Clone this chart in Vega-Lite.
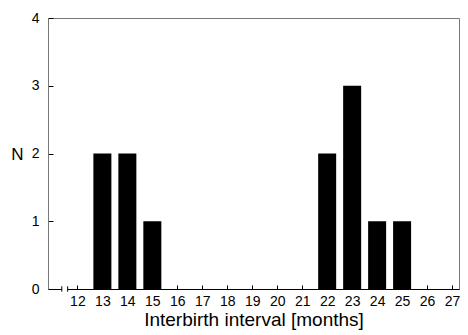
{
  "$schema": "https://vega.github.io/schema/vega-lite/v6.json",
  "width": 411,
  "height": 271,
  "autosize": {"type": "none"},
  "padding": {"left": 48, "top": 18, "right": 9, "bottom": 46},
  "background": "white",
  "config": {
    "view": {"stroke": "#777777", "strokeWidth": 1},
    "font": "Liberation Sans",
    "axis": {
      "labelFont": "Liberation Sans",
      "titleFont": "Liberation Sans",
      "labelFontSize": 14,
      "labelColor": "black",
      "titleColor": "black",
      "grid": false,
      "tickColor": "black",
      "domainColor": "black",
      "tickSize": 0,
      "labelOverlap": false
    }
  },
  "encoding": {
    "x": {
      "field": "interval", "type": "quantitative",
      "scale": {"domain": [11.023, 27.078], "nice": false, "zero": false},
      "axis": {
        "values": [12, 13, 14, 15, 16, 17, 18, 19, 20, 21, 22, 23, 24, 25, 26, 27],
        "format": "d",
        "title": "Interbirth interval [months]",
        "titleFontSize": 19,
        "titleFontWeight": "normal",
        "titlePadding": 2,
        "labelPadding": 9,
        "tickSize": -4,
        "labelFlush": false,
        "labelOverlap": false
      }
    }
  },
  "layer": [
    {
      "data": {"values": [
        {"interval": 13, "n": 2},
        {"interval": 14, "n": 2},
        {"interval": 15, "n": 1},
        {"interval": 22, "n": 2},
        {"interval": 23, "n": 3},
        {"interval": 24, "n": 1},
        {"interval": 25, "n": 1}
      ]},
      "mark": {"type": "bar", "color": "black", "size": 18},
      "encoding": {
        "y": {
          "field": "n", "type": "quantitative",
          "scale": {"domain": [0, 4], "nice": false},
          "axis": {
            "values": [0, 1, 2, 3, 4],
            "format": "d",
            "title": "N",
            "titleAngle": 0,
            "titleFontSize": 17,
            "titleFontWeight": "normal",
            "titleX": -31,
            "titleY": 136,
            "titleAlign": "center",
            "titleBaseline": "middle",
            "labelPadding": 14,
            "tickSize": -5,
            "domainColor": "#777777",
            "labelFlush": false
          }
        }
      }
    },
    {
      "data": {"values": [{"interval": 11.375, "interval2": 11.61}]},
      "mark": {"type": "rule", "color": "white", "strokeWidth": 2},
      "encoding": {
        "x2": {"field": "interval2"},
        "y": {"datum": 0}
      }
    },
    {
      "data": {"values": [{"interval": 11.375}, {"interval": 11.61}]},
      "mark": {"type": "rule", "color": "black", "strokeWidth": 1},
      "encoding": {
        "y": {"datum": -0.04},
        "y2": {"datum": 0.04}
      }
    }
  ]
}
